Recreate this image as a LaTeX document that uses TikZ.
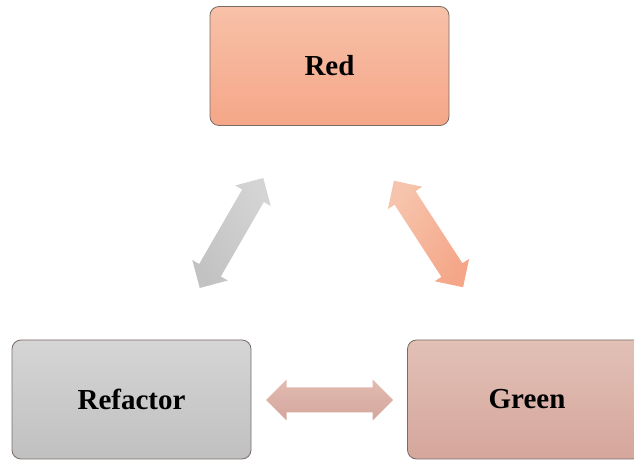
\documentclass[tikz,border=0pt]{standalone}
\usepackage{fontspec}
\setmainfont{Liberation Serif}

\definecolor{redTop}{RGB}{247,193,168}
\definecolor{redBot}{RGB}{245,166,136}
\definecolor{grayTop}{RGB}{213,213,213}
\definecolor{grayBot}{RGB}{192,192,192}
\definecolor{greenTop}{RGB}{226,192,182}
\definecolor{greenBot}{RGB}{213,166,156}
\definecolor{boxEdge}{RGB}{120,108,102}
\definecolor{arrGrayTop}{RGB}{212,212,212}
\definecolor{arrGrayBot}{RGB}{194,194,194}
\definecolor{arrOrTop}{RGB}{246,196,172}
\definecolor{arrOrBot}{RGB}{245,166,136}
\definecolor{arrHTop}{RGB}{225,187,177}
\definecolor{arrHBot}{RGB}{212,166,156}

\tikzset{
  stage/.style={draw=boxEdge, line width=0.8pt, rounded corners=9pt,
    minimum width=239pt, minimum height=119pt, inner sep=0pt,
    font=\fontsize{29}{34}\selectfont\bfseries}
}

% two-way block arrow centred at #1, turned by #2 degrees, shaded #3 -> #4
\newcommand{\twowayarrow}[4]{%
  \begin{scope}[shift={#1}, rotate=#2]
    \shade[top color=#3, bottom color=#4, shading angle=-#2]
      (-63.5,0) -- (-43,20.5) -- (-43,12.5) -- (43,12.5) -- (43,20.5)
      -- (63.5,0) -- (43,-20.5) -- (43,-12.5) -- (-43,-12.5) -- (-43,-20.5)
      -- cycle;
  \end{scope}}

\begin{document}
\begin{tikzpicture}[x=1pt,y=1pt]
  \useasboundingbox (0,0) rectangle (634,460);
  \clip (0,0) rectangle (634,460);

  % the three stages of the cycle
  \node[stage, top color=redTop, bottom color=redBot] (red) at (329.5,394) {Red};
  \node[stage, top color=grayTop, bottom color=grayBot] (refactor) at (131.5,60.5) {Refactor};
  \node[stage, top color=greenTop, bottom color=greenBot] (green) at (527,60.5) {Green};

  % two-way block arrows between the stages
  \twowayarrow{(231.5,227)}{60}{arrGrayTop}{arrGrayBot}
  \twowayarrow{(428.5,226)}{-57}{arrOrTop}{arrOrBot}
  \twowayarrow{(329.5,60)}{0}{arrHTop}{arrHBot}
\end{tikzpicture}
\end{document}
